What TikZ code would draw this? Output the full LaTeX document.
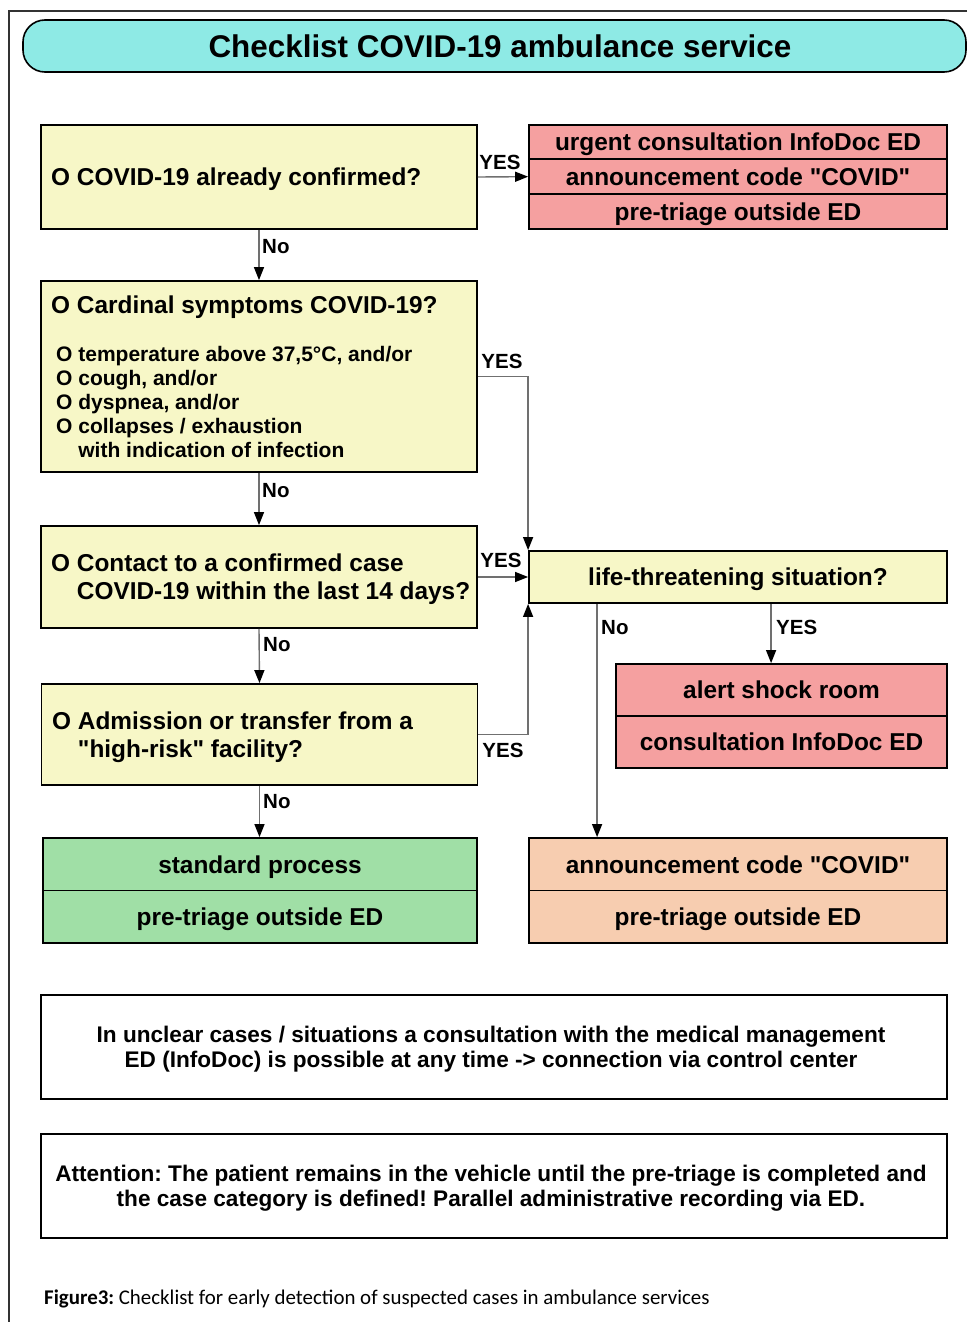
\documentclass[tikz,border=0pt]{standalone}
\usepackage{fontspec}
\setmainfont{Liberation Sans}
\newfontfamily\capfont{Carlito}
\usetikzlibrary{arrows.meta,calc}
\definecolor{ylw}{HTML}{F7F7C7}
\definecolor{rd}{HTML}{F5A0A0}
\definecolor{grn}{HTML}{A0DFA6}
\definecolor{pch}{HTML}{F7CDB0}
\definecolor{cyn}{HTML}{8EEAE5}
\definecolor{lnc}{HTML}{707070}
\newcommand{\dq}{\XeTeXglyph\the\XeTeXcharglyph"22\relax}
\begin{document}
\frenchspacing
\begin{tikzpicture}[x=1pt,y=-1pt,
  bx/.style={draw=black,line width=1.8pt,inner sep=0pt,text height=17.5pt,text depth=0pt,font=\bfseries\fontsize{24.4}{28}\selectfont},
  qbox/.style={bx,fill=ylw},
  rbox/.style={bx,fill=rd},
  gbox/.style={bx,fill=grn},
  pbox/.style={bx,fill=pch},
  nbox/.style={draw=black,line width=1.8pt,inner sep=0pt,fill=white},
  ntxt/.style={inner sep=0pt,align=center,font=\bfseries\fontsize{22.6}{25}\selectfont},
  qtxt/.style={inner sep=0pt,align=left,font=\bfseries\fontsize{24.4}{28}\selectfont},
  ltxt/.style={inner sep=0pt,align=left,font=\bfseries\fontsize{21}{24}\selectfont},
  lbl/.style={inner sep=0pt,font=\bfseries\fontsize{20.5}{24}\selectfont},
  conn/.style={draw=lnc,line width=1.4pt,-{Triangle[length=13pt,width=10pt,color=black]}}]
\useasboundingbox (0,0) rectangle (967,1322);
\fill[white] (0,0) rectangle (967,1322);
% outer frame
\coordinate (fr) at (967,11);
\coordinate (fl) at (9,11);
\coordinate (fb) at (9,1322);
\draw[black!80,line width=1.3pt] (fr) -- (fl) -- (fb);
% title
\node[draw=black,line width=1.6pt,fill=cyn,rounded corners=22pt,minimum width=943pt,minimum height=52pt,inner sep=0pt] (title) at (494.5,46) {};
\node[inner sep=0pt,font=\bfseries\fontsize{31.4}{34}\selectfont] (titletext) at (500,46) {Checklist COVID-19 ambulance service};
% left column
\node[qbox,minimum width=436pt,minimum height=104pt] (b1) at (259,177) {};
\node[qtxt,anchor=west] (b1t) at (51,179) {O COVID-19 already confirmed?};
\node[qbox,minimum width=436pt,minimum height=191pt] (b2) at (259,376.5) {};
\node[qtxt,anchor=west] (b2t) at (51,307) {O Cardinal symptoms COVID-19?};
\node[ltxt,anchor=west] (b2l) at (56,402) {O temperature above 37,5°C, and/or\\O cough, and/or\\O dyspnea, and/or\\O collapses / exhaustion\\\phantom{O }with indication of infection};
\node[qbox,minimum width=436pt,minimum height=102pt] (b3) at (259,577) {};
\node[qtxt,anchor=west] (b3t) at (51,579) {O Contact to a confirmed case\\\phantom{O }COVID-19 within the last 14 days?};
\node[qbox,minimum width=436pt,minimum height=101pt] (b4) at (259.5,734.5) {};
\node[qtxt,anchor=west] (b4t) at (52,737) {O Admission or transfer from a\\\phantom{O }\dq high-risk\dq{} facility?};
\node[gbox,minimum width=434pt,minimum height=52.5pt] (g1) at (260,864.25) {standard process};
\node[gbox,minimum width=434pt,minimum height=52.5pt] (g2) at (260,916.75) {pre-triage outside ED};
% right column
\node[rbox,minimum width=418pt,minimum height=34.67pt] (r1a) at (738,142) {urgent consultation InfoDoc ED};
\node[rbox,minimum width=418pt,minimum height=34.67pt] (r1b) at (738,176.67) {announcement code \dq COVID\dq};
\node[rbox,minimum width=418pt,minimum height=34.67pt] (r1c) at (738,211.33) {pre-triage outside ED};
\node[qbox,minimum width=418pt,minimum height=52pt] (life) at (738,577) {life-threatening situation?};
\node[rbox,minimum width=331pt,minimum height=52pt] (r2a) at (781.5,690) {alert shock room};
\node[rbox,minimum width=331pt,minimum height=52pt] (r2b) at (781.5,742) {consultation InfoDoc ED};
\node[pbox,minimum width=418pt,minimum height=52.5pt] (p1) at (738,864.25) {announcement code \dq COVID\dq};
\node[pbox,minimum width=418pt,minimum height=52.5pt] (p2) at (738,916.75) {pre-triage outside ED};
% notes
\node[nbox,minimum width=906pt,minimum height=104pt] (n1) at (494,1047) {};
\node[ntxt] (n1t) at (491,1049) {In unclear cases / situations a consultation with the medical management\\ED (InfoDoc) is possible at any time -> connection via control center};
\node[nbox,minimum width=906pt,minimum height=104pt] (n2) at (494,1186) {};
\node[ntxt] (n2t) at (491,1188) {Attention: The patient remains in the vehicle until the pre-triage is completed and\\the case category is defined! Parallel administrative recording via ED.};
% caption
\node[inner sep=0pt,anchor=west,font=\capfont\fontsize{20.9}{24}\selectfont] (cap) at (44,1299) {\textbf{Figure3:} Checklist for early detection of suspected cases in ambulance services};
% connectors
\draw[conn] (b1.east) -- (r1b.west);
\draw[conn] (b1.south) -- (b2.north);
\draw[conn] (b2.south) -- (b3.north);
\draw[conn] (b3.south) -- (b4.north);
\draw[conn] (b4.south) -- (b4.south |- g1.north);
\draw[conn] (b2.east) -| (life.north west);
\draw[conn] (b3.east) -- (life.west);
\draw[conn] (b4.east) -| (life.south west);
\draw[conn] (life.south west) ++(69,0) coordinate (nst) -- (nst |- p1.north);
\draw[conn] (life.south west) ++(243,0) coordinate (yst) -- (yst |- r2a.north);
% labels
\node[lbl] (y1) at (500,162) {YES};
\node[lbl,anchor=west] (no1) at (262,247) {No};
\node[lbl] (y2) at (502,361) {YES};
\node[lbl,anchor=west] (no2) at (262,491) {No};
\node[lbl] (y3) at (501,560) {YES};
\node[lbl,anchor=west] (no3) at (263,645) {No};
\node[lbl] (y4) at (503,750) {YES};
\node[lbl,anchor=west] (no4) at (263,802) {No};
\node[lbl,anchor=west] (no5) at (601,628) {No};
\node[lbl,anchor=west] (y5) at (776,627) {YES};
\end{tikzpicture}
\end{document}
